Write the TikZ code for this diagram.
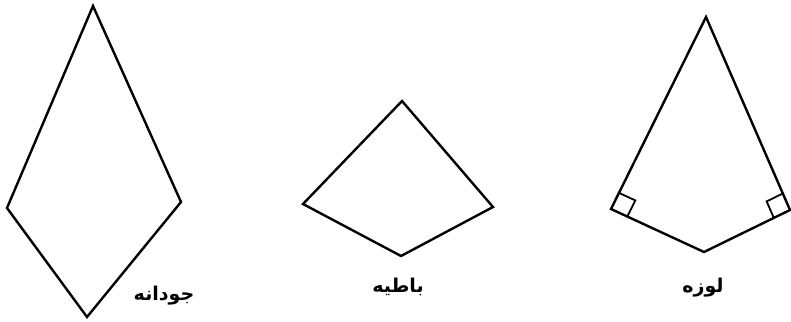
\documentclass[tikz,border=0pt]{standalone}
\usepackage{fontspec}
\newfontfamily\arabicfont[Script=Arabic]{DejaVu Sans}
\TeXXeTstate=1
\usepackage{tikz}
\usetikzlibrary{calc}
\tikzset{x=1pt,y=-1pt,
side/.style={line width=2.4pt,line join=miter},
rtbox/.style={line width=1.8pt},
shapelbl/.style={font=\arabicfont\bfseries\fontsize{19}{22}\selectfont,inner sep=0pt},
}

\begin{document}
\begin{tikzpicture}
	\useasboundingbox (0,0) rectangle (791,321);

	% left shape
	\coordinate (jtop) at (93,6);
	\coordinate (jleft) at (7,208);
	\coordinate (jright) at (181,202);
	\coordinate (jbot) at (87,317);
	\node[shapelbl] (jlabel) at (164,296) {\beginR جودانه\endR};

	% middle shape
	\coordinate (btop) at (402,101);
	\coordinate (bleft) at (303,204);
	\coordinate (bright) at (493,207);
	\coordinate (bbot) at (401,256);
	\node[shapelbl] (blabel) at (398,287) {\beginR باطیه\endR};

	% right shape
	\coordinate (ltop) at (706,17);
	\coordinate (lleft) at (611,209);
	\coordinate (lright) at (790,210);
	\coordinate (lbot) at (704,252);
	\node[shapelbl] (llabel) at (703,288) {\beginR لوزه\endR};

	\draw[side] (jtop) -- (jright) -- (jbot) -- (jleft) -- cycle;
	\draw[side] (btop) -- (bright) -- (bbot) -- (bleft) -- cycle;
	\draw[side] (ltop) -- (lright) -- (lbot) -- (lleft) -- cycle;

	% right angle marks
	\coordinate (la) at ($(lleft)!18pt!(ltop)$);
	\coordinate (lb) at ($(lleft)!18pt!(lbot)$);
	\coordinate (ra) at ($(lright)!18pt!(ltop)$);
	\coordinate (rb) at ($(lright)!18pt!(lbot)$);
	\draw[rtbox] (la) -- ($(la)+(lb)-(lleft)$) -- (lb);
	\draw[rtbox] (ra) -- ($(ra)+(rb)-(lright)$) -- (rb);
\end{tikzpicture}
\end{document}
